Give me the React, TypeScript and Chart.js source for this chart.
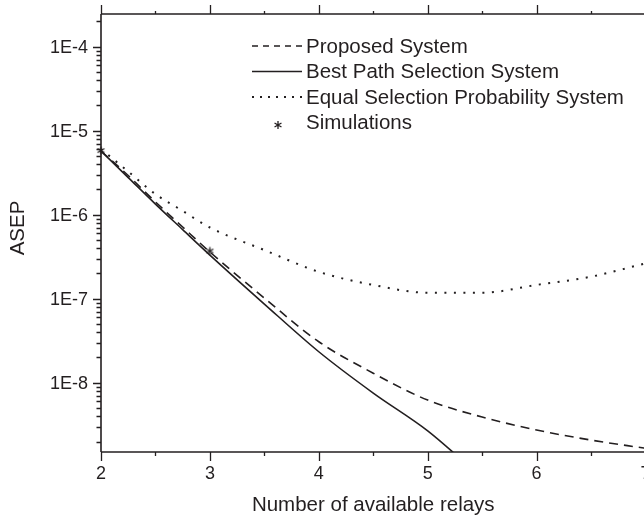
import React, { useEffect, useRef } from "react";
import { Chart, registerables } from "chart.js";

Chart.register(...registerables);

// ---- data ----
const relays = [2, 2.25, 2.5, 2.75, 3, 3.5, 4, 4.5, 5, 5.5, 6, 6.5, 7];
const proposed = [5.73e-6, 2.93e-6, 1.42e-6, 7.14e-7, 3.6e-7, 1.02e-7, 3.08e-8, 1.3e-8, 6.22e-9, 3.91e-9, 2.74e-9, 2.08e-9, 1.66e-9];
const bestPath = [5.73e-6, 2.77e-6, 1.34e-6, 6.65e-7, 3.31e-7, 8.65e-8, 2.34e-8, 7.54e-9, 2.68e-9, 7.5e-10, 2.5e-10, null, null];
const equalProb = [6.05e-6, 3.27e-6, 1.76e-6, 1.11e-6, 7.05e-7, 3.8e-7, 2.09e-7, 1.46e-7, 1.18e-7, 1.18e-7, 1.46e-7, 1.83e-7, 2.64e-7];
const simRelays = [2, 3];
const simValues = [5.8e-6, 3.7e-7];

const yTickLabels = ["1E-4", "1E-5", "1E-6", "1E-7", "1E-8"];
const yTickValues = [1e-4, 1e-5, 1e-6, 1e-7, 1e-8];
const xTickValues = [2, 3, 4, 5, 6, 7];

const seriesNames = [
  "Proposed System",
  "Best Path Selection System",
  "Equal Selection Probability System",
  "Simulations",
];

const X_MIN = 2;
const X_MAX = 7;
const Y_MIN = 1.5e-9;
const Y_MAX = 2.45e-4;

const INK = "#231f20";
const FONT = "'Liberation Sans', Arial, Helvetica, sans-serif";

function drawAsterisk(ctx: CanvasRenderingContext2D, x: number, y: number, r: number) {
  ctx.save();
  ctx.strokeStyle = INK;
  ctx.lineWidth = 1.3;
  ctx.setLineDash([]);
  ctx.beginPath();
  for (let k = 0; k < 3; k++) {
    const a = Math.PI / 2 + (k * Math.PI) / 3;
    ctx.moveTo(x + r * Math.cos(a), y + r * Math.sin(a));
    ctx.lineTo(x - r * Math.cos(a), y - r * Math.sin(a));
  }
  ctx.stroke();
  ctx.restore();
}

function makeStarImage(): HTMLCanvasElement {
  const c = document.createElement("canvas");
  c.width = 11;
  c.height = 11;
  const g = c.getContext("2d")!;
  drawAsterisk(g, 5.5, 5.5, 4);
  return c;
}

const frame = {
  id: "frame",
  afterDraw(chart: any) {
    const ctx: CanvasRenderingContext2D = chart.ctx;
    const { left, right, top, bottom } = chart.chartArea;
    const xs = chart.scales.x;
    const ys = chart.scales.y;
    ctx.save();
    ctx.strokeStyle = INK;
    ctx.fillStyle = INK;
    ctx.lineWidth = 1.6;
    ctx.setLineDash([]);
    // axes lines
    ctx.beginPath();
    ctx.moveTo(left, top);
    ctx.lineTo(left, bottom);
    ctx.moveTo(left, bottom);
    ctx.lineTo(right + 2, bottom);
    ctx.moveTo(left, top);
    ctx.lineTo(right + 2, top);
    ctx.stroke();

    // y ticks (log)
    ctx.lineWidth = 1.3;
    ctx.beginPath();
    for (let d = -10; d <= -3; d++) {
      for (let m = 1; m <= 9; m++) {
        const v = m * Math.pow(10, d);
        if (v < Y_MIN || v > Y_MAX) continue;
        const py = Math.round(ys.getPixelForValue(v)) + 0.5;
        const len = m === 1 ? 8 : 4.5;
        ctx.moveTo(left - len, py);
        ctx.lineTo(left, py);
      }
    }
    // x ticks
    for (let v = X_MIN; v <= X_MAX + 0.001; v += 0.5) {
      const px = Math.round(xs.getPixelForValue(v)) + 0.5;
      const major = Math.abs(v - Math.round(v)) < 0.01;
      const len = major ? 9 : 4;
      ctx.moveTo(px, bottom);
      ctx.lineTo(px, bottom + len);
      ctx.moveTo(px, top);
      ctx.lineTo(px, top - (major ? 9 : 3));
    }
    ctx.stroke();

    // tick labels
    ctx.font = `18px ${FONT}`;
    ctx.textAlign = "right";
    ctx.textBaseline = "middle";
    yTickValues.forEach((v, i) => {
      ctx.fillText(yTickLabels[i], left - 13, ys.getPixelForValue(v) + 1);
    });
    ctx.textAlign = "center";
    xTickValues.forEach((v) => {
      ctx.fillText(String(v), xs.getPixelForValue(v), bottom + 22);
    });

    // axis titles
    ctx.font = `20.5px ${FONT}`;
    ctx.fillText("Number of available relays", (left + right) / 2, bottom + 53);
    ctx.save();
    ctx.translate(18, 228);
    ctx.rotate(-Math.PI / 2);
    ctx.fillText("ASEP", 0, 0);
    ctx.restore();

    // legend
    const lx0 = 252;
    const lx1 = 302;
    const rows = [46, 71.5, 97, 122];
    ctx.textAlign = "left";
    ctx.font = `20.5px ${FONT}`;
    chart.data.datasets.forEach((ds: any, i: number) => {
      const ry = rows[i];
      if (i < 3) {
        ctx.save();
        ctx.strokeStyle = ds.borderColor;
        ctx.lineWidth = ds.borderWidth;
        ctx.setLineDash(ds.legendDash || []);
        ctx.beginPath();
        ctx.moveTo(lx0, ry);
        ctx.lineTo(lx1, ry);
        ctx.stroke();
        ctx.restore();
      } else {
        drawAsterisk(ctx, 278, ry + 3, 4);
      }
      ctx.fillStyle = INK;
      ctx.fillText(ds.label, 306, ry + 1);
    });
    ctx.restore();
  },
};

export default function App() {
  const ref = useRef<HTMLCanvasElement>(null);

  useEffect(() => {
    const canvas = ref.current!;
    const star = makeStarImage();
    const toXY = (vals: (number | null)[]) =>
      relays.map((x, i) => ({ x, y: vals[i] })).filter((p) => p.y !== null);

    const lineBase = {
      type: "line" as const,
      borderColor: INK,
      backgroundColor: INK,
      pointRadius: 0,
      pointHoverRadius: 0,
      pointBorderWidth: 0,
      fill: false,
      cubicInterpolationMode: "monotone" as const,
      clip: 0,
    };

    const chart = new Chart(canvas, {
      type: "line",
      data: {
        datasets: [
          {
            ...lineBase,
            label: seriesNames[0],
            data: toXY(proposed),
            borderWidth: 1.6,
            borderDash: [9, 6],
            legendDash: [6, 5],
          } as any,
          {
            ...lineBase,
            label: seriesNames[1],
            data: toXY(bestPath),
            borderWidth: 1.6,
          } as any,
          {
            ...lineBase,
            label: seriesNames[2],
            data: toXY(equalProb),
            borderWidth: 2,
            borderDash: [2, 7.5],
            legendDash: [2, 6],
          } as any,
          {
            type: "scatter",
            label: seriesNames[3],
            data: simRelays.map((x, i) => ({ x, y: simValues[i] })),
            showLine: false,
            pointStyle: star,
            pointRadius: 0.5,
            pointHoverRadius: 0,
            pointBorderWidth: 0,
            borderWidth: 0,
            borderColor: INK,
            backgroundColor: INK,
            clip: false,
          } as any,
        ],
      },
      options: {
        responsive: false,
        animation: false,
        devicePixelRatio: 1,
        layout: { padding: { left: 101, top: 14, right: 0, bottom: 67 } },
        scales: {
          x: { type: "linear", min: X_MIN, max: X_MAX, display: false },
          y: { type: "logarithmic", min: Y_MIN, max: Y_MAX, display: false },
        },
        plugins: {
          legend: { display: false },
          tooltip: { enabled: false },
        },
      },
      plugins: [frame],
    });
    return () => chart.destroy();
  }, []);

  return (
    <div style={{ position: "absolute", left: 0, top: 0, width: 644, height: 519, overflow: "hidden", background: "#fff" }}>
      <canvas ref={ref} width={646} height={519} style={{ width: 646, height: 519, display: "block" }} />
    </div>
  );
}
